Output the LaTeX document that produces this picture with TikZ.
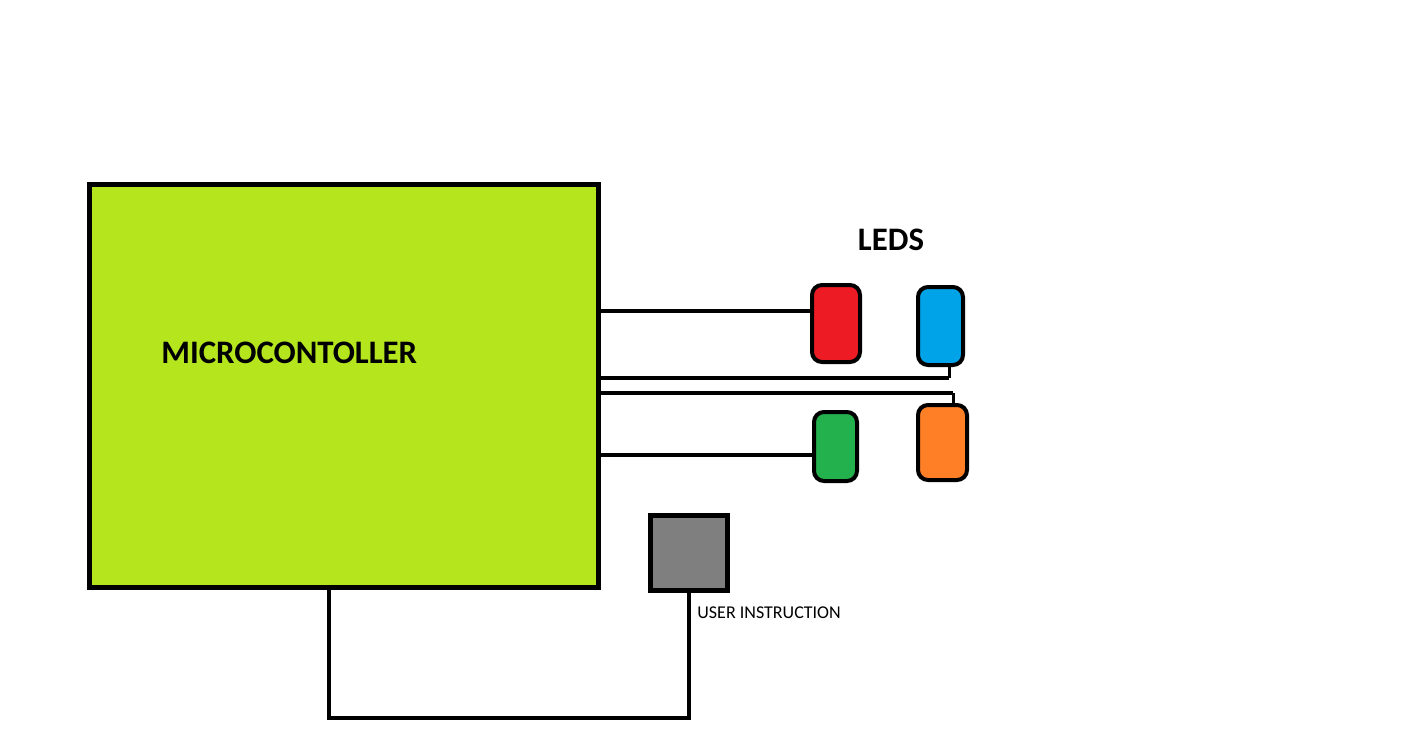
\documentclass[tikz,border=0pt]{standalone}
\usepackage{fontspec}
\setmainfont{Carlito}
\definecolor{lime}{HTML}{B5E61D}
\definecolor{ledred}{HTML}{ED1C24}
\definecolor{ledblue}{HTML}{00A2E8}
\definecolor{ledgreen}{HTML}{22B14C}
\definecolor{ledorange}{HTML}{FF7F27}
\definecolor{btngray}{HTML}{7F7F7F}
\begin{document}
\begin{tikzpicture}[x=0.5pt,y=-0.5pt,
  mcbox/.style={draw=black,line width=2.5pt,fill=lime,rectangle,inner sep=0pt},
  led/.style={draw=black,line width=2pt,rectangle,rounded corners=5pt,inner sep=0pt},
  btn/.style={draw=black,line width=2.5pt,fill=btngray,rectangle,inner sep=0pt},
  wire/.style={draw=black,line width=2.2pt},
  stub/.style={draw=black,line width=1.5pt},
  bigtxt/.style={font=\bfseries\fontsize{16.4pt}{19pt}\selectfont,inner sep=0pt},
  smalltxt/.style={font=\fontsize{9pt}{11pt}\selectfont,inner sep=0pt}]
\useasboundingbox[fill=white] (0,0) rectangle (1420,739);
\node[mcbox,minimum width=254.5pt,minimum height=201.5pt] (mc) at (343.5,385.5) {};
\node[bigtxt,anchor=west] (mctxt) at (161,353) {MICROCONTOLLER};
\node[bigtxt] (ledtxt) at (891,240) {LEDS};
\node[led,fill=ledred,minimum width=24pt,minimum height=38.5pt] (red) at (836,323.5) {};
\node[led,fill=ledblue,minimum width=22.5pt,minimum height=39pt] (blue) at (940.5,326) {};
\node[led,fill=ledgreen,minimum width=21.5pt,minimum height=34.5pt] (green) at (835.5,446.5) {};
\node[led,fill=ledorange,minimum width=24.5pt,minimum height=37.5pt] (orange) at (942.5,442.5) {};
\node[btn,minimum width=38.5pt,minimum height=37.5pt] (gray) at (689,553) {};
\node[smalltxt,anchor=west] (usertxt) at (697,613) {USER INSTRUCTION};
\coordinate (k1) at (949,378);
\coordinate (k2) at (953,393);
\coordinate (b1) at (329,718);
\draw[wire] (mc.east |- 0,311) -- (red.west |- 0,311);
\draw[wire] (mc.east |- k1) -- (k1);
\draw[stub] (k1) -- (blue.south -| k1);
\draw[wire] (mc.east |- k2) -- (k2);
\draw[stub] (k2) -- (orange.north -| k2);
\draw[wire] (mc.east |- 0,455) -- (green.west |- 0,455);
\draw[wire] (mc.south -| b1) -- (b1) -| (gray.south);
\end{tikzpicture}
\end{document}
